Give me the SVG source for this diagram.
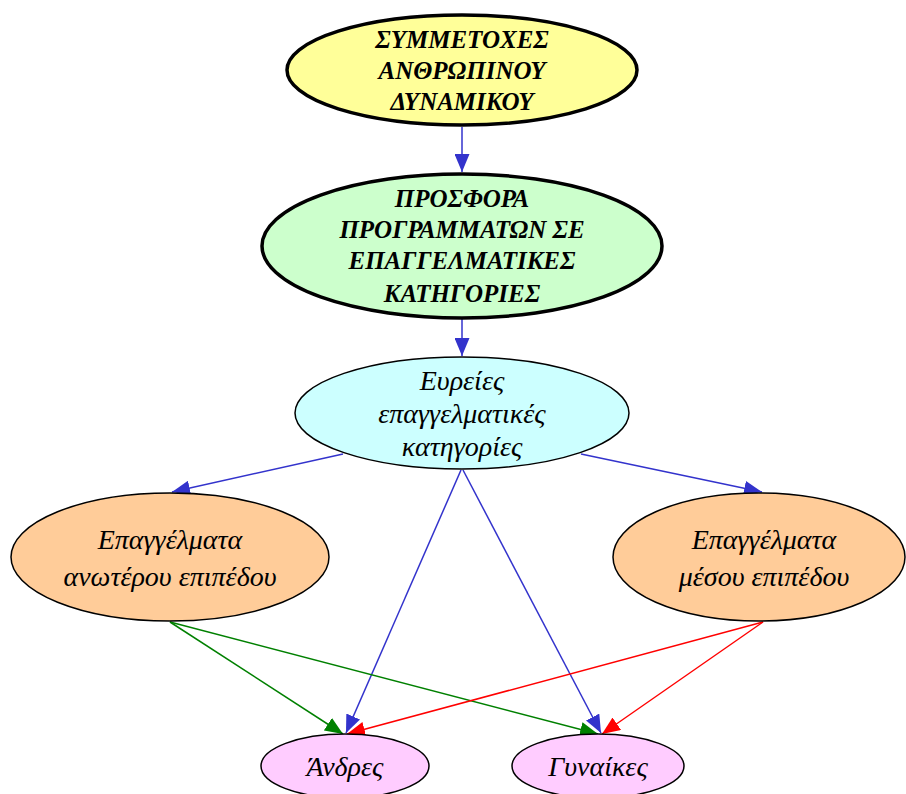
<svg xmlns="http://www.w3.org/2000/svg" width="906" height="794" viewBox="0 0 906 794">
<style>
.n{stroke:#000;stroke-width:1.5}
.b{stroke-width:3.5}
.t{font-family:'Liberation Serif','DejaVu Serif',serif;font-style:italic;text-anchor:middle;fill:#000}
.tb{font-weight:bold;font-size:25px}
.tn{font-size:28px}
.e{fill:none;stroke-width:1.5}
.blue{stroke:#3333cc}
.green{stroke:#008000}
.red{stroke:#ff0000}
</style>
<defs>
<marker id="ab" markerUnits="userSpaceOnUse" markerWidth="18" markerHeight="15" refX="18" refY="7.5" orient="auto"><path d="M0,0 L18,7.5 L0,15 z" fill="#3333cc"/></marker>
<marker id="ag" markerUnits="userSpaceOnUse" markerWidth="18" markerHeight="15" refX="18" refY="7.5" orient="auto"><path d="M0,0 L18,7.5 L0,15 z" fill="#008000"/></marker>
<marker id="ar" markerUnits="userSpaceOnUse" markerWidth="18" markerHeight="15" refX="18" refY="7.5" orient="auto"><path d="M0,0 L18,7.5 L0,15 z" fill="#ff0000"/></marker>
</defs>
<rect width="906" height="794" fill="#fff"/>
<g id="edges">
<line class="e blue" x1="462" y1="127" x2="462" y2="172" marker-end="url(#ab)"/>
<line class="e blue" x1="462" y1="319" x2="462" y2="356" marker-end="url(#ab)"/>
<line class="e blue" x1="343" y1="454" x2="172" y2="492" marker-end="url(#ab)"/>
<line class="e blue" x1="581" y1="454" x2="762" y2="492" marker-end="url(#ab)"/>
<line class="e blue" x1="461" y1="470" x2="346" y2="733" marker-end="url(#ab)"/>
<line class="e blue" x1="463" y1="470" x2="601" y2="733" marker-end="url(#ab)"/>
<line class="e green" x1="170" y1="622" x2="343" y2="734" marker-end="url(#ag)"/>
<line class="e green" x1="170" y1="622" x2="598" y2="734" marker-end="url(#ag)"/>
<line class="e red" x1="763" y1="622" x2="347" y2="734" marker-end="url(#ar)"/>
<line class="e red" x1="763" y1="622" x2="602" y2="734" marker-end="url(#ar)"/>
</g>
<g id="n1">
<ellipse class="n b" cx="462" cy="70" rx="175" ry="55" fill="#ffff99"/>
<text class="t tb" x="462" y="48">ΣΥΜΜΕΤΟΧΕΣ</text>
<text class="t tb" x="462" y="79">ΑΝΘΡΩΠΙΝΟΥ</text>
<text class="t tb" x="462" y="110">ΔΥΝΑΜΙΚΟΥ</text>
</g>
<g id="n2">
<ellipse class="n b" cx="462" cy="246" rx="200" ry="72" fill="#ccffcc"/>
<text class="t tb" x="462" y="207">ΠΡΟΣΦΟΡΑ</text>
<text class="t tb" x="462" y="238">ΠΡΟΓΡΑΜΜΑΤΩΝ ΣΕ</text>
<text class="t tb" x="462" y="269">ΕΠΑΓΓΕΛΜΑΤΙΚΕΣ</text>
<text class="t tb" x="462" y="302">ΚΑΤΗΓΟΡΙΕΣ</text>
</g>
<g id="n3">
<ellipse class="n" cx="462" cy="413" rx="167" ry="56" fill="#ccffff"/>
<text class="t tn" x="462" y="390">Ευρείες</text>
<text class="t tn" x="462" y="423">επαγγελματικές</text>
<text class="t tn" x="462" y="456">κατηγορίες</text>
</g>
<g id="n4">
<ellipse class="n" cx="170" cy="557" rx="159" ry="64" fill="#ffcc99"/>
<text class="t tn" x="170" y="549">Επαγγέλματα</text>
<text class="t tn" x="170" y="586">ανωτέρου επιπέδου</text>
</g>
<g id="n5">
<ellipse class="n" cx="759" cy="557" rx="146" ry="64" fill="#ffcc99"/>
<text class="t tn" x="764" y="549">Επαγγέλματα</text>
<text class="t tn" x="764" y="586">μέσου επιπέδου</text>
</g>
<g id="n6">
<ellipse class="n" cx="345" cy="766" rx="84" ry="32" fill="#ffccff"/>
<text class="t tn" x="345" y="776">Άνδρες</text>
</g>
<g id="n7">
<ellipse class="n" cx="598" cy="766" rx="86" ry="32" fill="#ffccff"/>
<text class="t tn" x="598" y="776">Γυναίκες</text>
</g>
</svg>
